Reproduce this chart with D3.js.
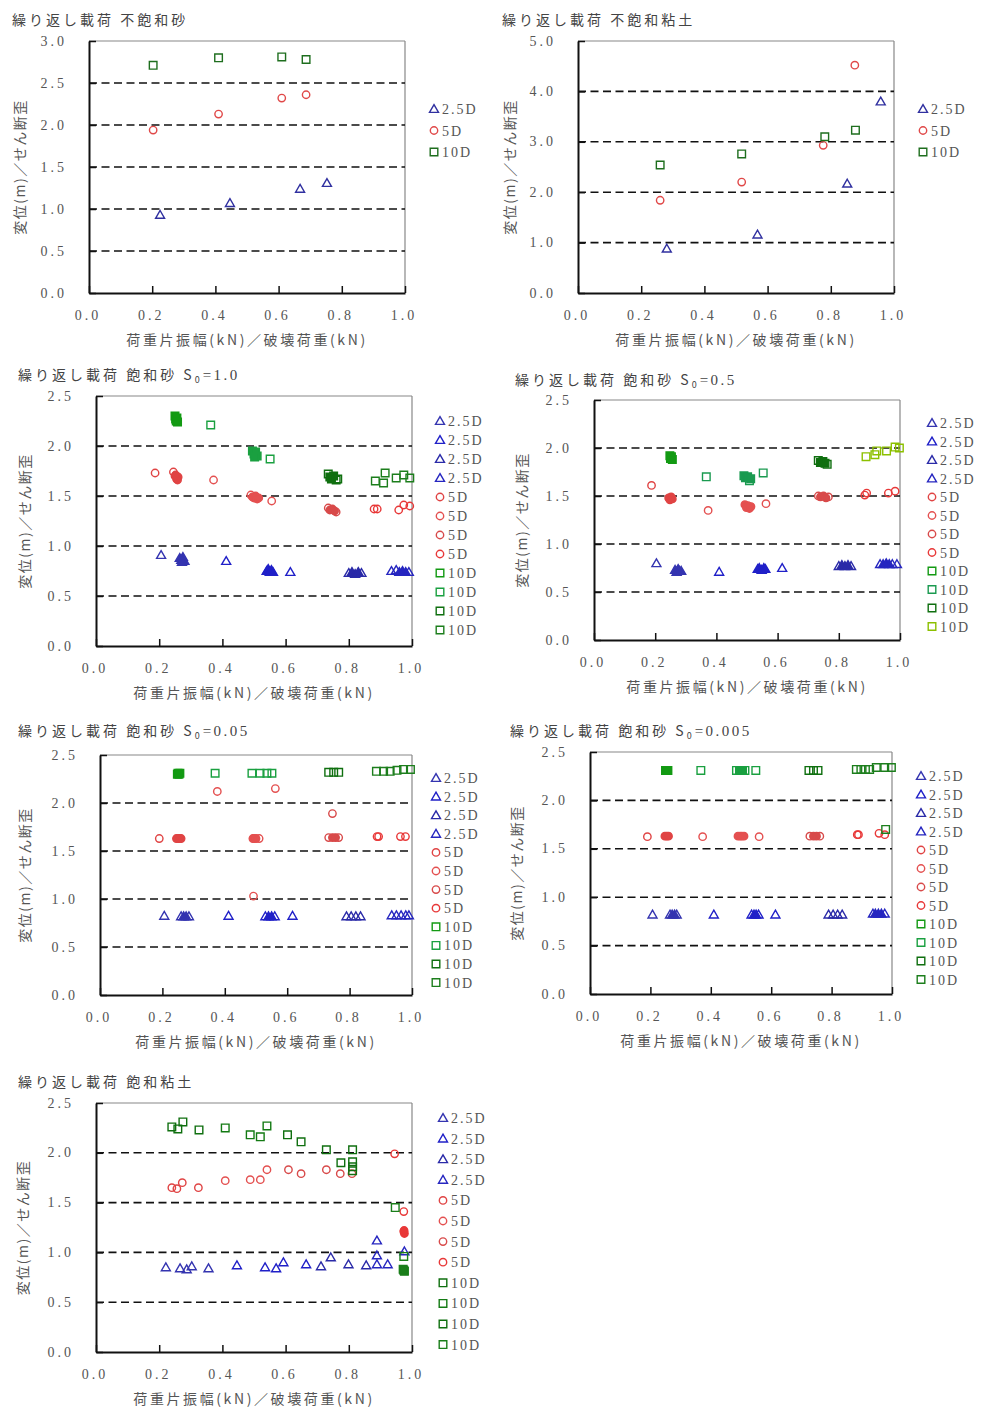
<!DOCTYPE html>
<html><head><meta charset="utf-8">
<script src="https://cdn.jsdelivr.net/npm/d3@7"></script>
<style>
body{margin:0;background:#fff;}
svg{display:block;}
text{font-family:"Liberation Serif","Noto Sans CJK JP",serif;}
.jp{font-family:"Noto Sans CJK JP","Noto Sans",sans-serif;}
</style></head>
<body>
<svg id="c" width="985" height="1412"></svg>
<script>
// ---------- DATA ----------
const xTicks = [0, 0.2, 0.4, 0.6, 0.8, 1.0];
const yTicks25 = [0, 0.5, 1.0, 1.5, 2.0, 2.5];
const yTicks30 = [0, 0.5, 1.0, 1.5, 2.0, 2.5, 3.0];
const yTicks50 = [0, 1.0, 2.0, 3.0, 4.0, 5.0];
const xTitle = "荷重片振幅(kN)／破壊荷重(kN)";
const yTitle = "変位(m)／せん断歪";
const seriesNames = ["2.5D", "5D", "10D"];
const titles = [
  ["繰り返し載荷 不飽和砂", ""],
  ["繰り返し載荷 不飽和粘土", ""],
  ["繰り返し載荷 飽和砂 S", "=1.0"],
  ["繰り返し載荷 飽和砂 S", "=0.5"],
  ["繰り返し載荷 飽和砂 S", "=0.05"],
  ["繰り返し載荷 飽和砂 S", "=0.005"],
  ["繰り返し載荷 飽和粘土", ""]
];

// Panel 1: 不飽和砂
const p1Tri = [[0.225,0.93],[0.446,1.07],[0.668,1.24],[0.753,1.31]];
const p1Cir = [[0.203,1.94],[0.41,2.13],[0.61,2.32],[0.687,2.36]];
const p1Sqr = [[0.203,2.71],[0.41,2.80],[0.61,2.81],[0.687,2.78]];

// Panel 2: 不飽和粘土
const p2Tri = [[0.281,0.88],[0.568,1.16],[0.852,2.17],[0.958,3.80]];
const p2Cir = [[0.26,1.84],[0.518,2.20],[0.776,2.93],[0.876,4.52]];
const p2Sqr = [[0.26,2.54],[0.518,2.76],[0.781,3.10],[0.878,3.23]];

// Panel 3: 飽和砂 S0=1.0
const p3Tri1 = [[0.206,0.91],[0.265,0.88],[0.27,0.86],[0.275,0.89],[0.28,0.85],[0.272,0.84]];
const p3Tri2 = [[0.412,0.85],[0.54,0.75],[0.545,0.77],[0.55,0.74],[0.555,0.76],[0.56,0.74],[0.615,0.74]];
const p3Tri3 = [[0.80,0.73],[0.81,0.74],[0.82,0.72],[0.83,0.74],[0.84,0.73]];
const p3Tri4 = [[0.935,0.75],[0.95,0.76],[0.96,0.74],[0.97,0.75],[0.98,0.74],[0.99,0.74]];
const p3Cir1 = [[0.187,1.73],[0.245,1.74],[0.25,1.70],[0.255,1.67],[0.26,1.69],[0.258,1.66],[0.252,1.71]];
const p3Cir2 = [[0.372,1.66],[0.49,1.51],[0.495,1.49],[0.50,1.48],[0.505,1.50],[0.51,1.47],[0.515,1.48],[0.556,1.45]];
const p3Cir3 = [[0.735,1.38],[0.74,1.36],[0.748,1.37],[0.755,1.35],[0.76,1.34]];
const p3Cir4 = [[0.88,1.37],[0.89,1.37],[0.958,1.36],[0.974,1.41],[0.993,1.40]];
const p3Sqr1 = [[0.25,2.30],[0.252,2.27],[0.254,2.25],[0.256,2.28],[0.258,2.24]];
const p3Sqr2 = [[0.363,2.21],[0.495,1.95],[0.50,1.92],[0.505,1.94],[0.51,1.90],[0.502,1.89],[0.551,1.87]];
const p3Sqr3 = [[0.735,1.72],[0.74,1.69],[0.745,1.67],[0.752,1.70],[0.76,1.66],[0.765,1.67]];
const p3Sqr4 = [[0.884,1.65],[0.91,1.63],[0.915,1.73],[0.95,1.68],[0.974,1.71],[0.993,1.68]];

// Panel 4: 飽和砂 S0=0.5
const p4Tri1 = [[0.204,0.80],[0.265,0.73],[0.27,0.71],[0.275,0.74],[0.28,0.72],[0.285,0.72]];
const p4Tri2 = [[0.409,0.71],[0.535,0.74],[0.54,0.75],[0.548,0.73],[0.555,0.75],[0.56,0.74],[0.615,0.75]];
const p4Tri3 = [[0.80,0.77],[0.81,0.78],[0.82,0.77],[0.83,0.78],[0.84,0.77]];
const p4Tri4 = [[0.935,0.79],[0.945,0.79],[0.955,0.80],[0.965,0.79],[0.975,0.79],[0.99,0.79]];
const p4Cir1 = [[0.188,1.61],[0.244,1.48],[0.248,1.46],[0.252,1.49],[0.256,1.47]];
const p4Cir2 = [[0.373,1.35],[0.493,1.41],[0.498,1.38],[0.503,1.40],[0.508,1.37],[0.513,1.39],[0.562,1.42]];
const p4Cir3 = [[0.733,1.50],[0.74,1.49],[0.75,1.50],[0.758,1.48],[0.766,1.49]];
const p4Cir4 = [[0.885,1.51],[0.891,1.53],[0.962,1.53],[0.984,1.55]];
const p4Sqr1 = [[0.248,1.92],[0.25,1.89],[0.253,1.91],[0.256,1.88]];
const p4Sqr2 = [[0.367,1.70],[0.49,1.71],[0.495,1.69],[0.502,1.70],[0.508,1.66],[0.512,1.68],[0.553,1.74]];
const p4Sqr3 = [[0.733,1.87],[0.74,1.85],[0.748,1.86],[0.755,1.84],[0.762,1.83]];
const p4Sqr4 = [[0.889,1.91],[0.918,1.93],[0.924,1.97],[0.956,1.97],[0.984,2.01],[0.998,2.00]];

// Panel 5: 飽和砂 S0=0.05
const p5Tri1 = [[0.206,0.825],[0.26,0.82],[0.268,0.82],[0.276,0.82],[0.285,0.82]];
const p5Tri2 = [[0.412,0.825],[0.53,0.82],[0.54,0.82],[0.55,0.82],[0.56,0.82],[0.617,0.825]];
const p5Tri3 = [[0.79,0.82],[0.805,0.82],[0.82,0.82],[0.835,0.82]];
const p5Tri4 = [[0.935,0.83],[0.95,0.83],[0.965,0.83],[0.98,0.83],[0.99,0.83]];
const p5Cir1 = [[0.19,1.63],[0.245,1.63],[0.25,1.63],[0.255,1.63],[0.26,1.63]];
const p5Cir2 = [[0.376,2.12],[0.49,1.63],[0.495,1.63],[0.50,1.63],[0.51,1.63],[0.492,1.03],[0.562,2.15]];
const p5Cir3 = [[0.733,1.64],[0.745,1.64],[0.755,1.64],[0.765,1.64],[0.745,1.89]];
const p5Cir4 = [[0.888,1.65],[0.893,1.65],[0.963,1.65],[0.979,1.65]];
const p5Sqr1 = [[0.248,2.30],[0.25,2.31],[0.253,2.30],[0.256,2.31]];
const p5Sqr2 = [[0.369,2.31],[0.487,2.31],[0.513,2.31],[0.535,2.31],[0.551,2.31]];
const p5Sqr3 = [[0.733,2.32],[0.749,2.32],[0.765,2.32]];
const p5Sqr4 = [[0.886,2.33],[0.909,2.33],[0.93,2.33],[0.952,2.34],[0.973,2.35],[0.995,2.35]];

// Panel 6: 飽和砂 S0=0.005
const p6Tri1 = [[0.207,0.82],[0.265,0.82],[0.272,0.82],[0.28,0.82],[0.287,0.82]];
const p6Tri2 = [[0.41,0.82],[0.535,0.82],[0.543,0.82],[0.55,0.82],[0.558,0.82],[0.614,0.82]];
const p6Tri3 = [[0.79,0.82],[0.805,0.82],[0.82,0.82],[0.835,0.82]];
const p6Tri4 = [[0.937,0.83],[0.945,0.83],[0.955,0.83],[0.965,0.83],[0.976,0.83]];
const p6Cir1 = [[0.19,1.625],[0.248,1.63],[0.254,1.63],[0.26,1.63]];
const p6Cir2 = [[0.373,1.625],[0.49,1.63],[0.497,1.63],[0.503,1.63],[0.51,1.63],[0.56,1.625]];
const p6Cir3 = [[0.728,1.63],[0.74,1.63],[0.75,1.63],[0.761,1.63]];
const p6Cir4 = [[0.885,1.646],[0.889,1.646],[0.957,1.66],[0.976,1.646]];
const p6Sqr1 = [[0.25,2.31],[0.254,2.31],[0.258,2.31]];
const p6Sqr2 = [[0.367,2.31],[0.485,2.31],[0.495,2.31],[0.505,2.31],[0.513,2.31],[0.549,2.31]];
const p6Sqr3 = [[0.725,2.31],[0.74,2.31],[0.755,2.31]];
const p6Sqr4 = [[0.882,2.32],[0.897,2.32],[0.912,2.32],[0.926,2.32],[0.948,2.34],[0.976,2.34],[0.998,2.34],[0.979,1.70]];

// Panel 7: 飽和粘土
const p7Tri1 = [[0.221,0.85],[0.266,0.84],[0.287,0.83],[0.303,0.86],[0.356,0.84]];
const p7Tri2 = [[0.446,0.87],[0.535,0.85],[0.570,0.84],[0.593,0.90],[0.665,0.88]];
const p7Tri3 = [[0.712,0.86],[0.743,0.95],[0.799,0.88],[0.855,0.87]];
const p7Tri4 = [[0.889,1.12],[0.889,0.97],[0.889,0.88],[0.923,0.88],[0.976,1.01]];
const p7Cir1 = [[0.24,1.65],[0.256,1.64],[0.273,1.70],[0.324,1.65]];
const p7Cir2 = [[0.409,1.72],[0.488,1.73],[0.52,1.73],[0.541,1.83]];
const p7Cir3 = [[0.609,1.83],[0.649,1.79],[0.729,1.83],[0.773,1.79],[0.81,1.79]];
const p7Cir4 = [[0.945,1.99],[0.974,1.41],[0.974,1.21],[0.976,1.19],[0.975,1.22]];
const p7Sqr1 = [[0.24,2.26],[0.259,2.24],[0.275,2.31],[0.326,2.23]];
const p7Sqr2 = [[0.409,2.25],[0.488,2.18],[0.52,2.16],[0.541,2.27]];
const p7Sqr3 = [[0.606,2.18],[0.649,2.11],[0.729,2.03],[0.775,1.90],[0.812,2.03],[0.812,1.91],[0.812,1.86],[0.812,1.82]];
const p7Sqr4 = [[0.947,1.45],[0.974,0.96],[0.974,0.82],[0.976,0.81],[0.972,0.83]];

// ---------- RENDER ----------
const svg = d3.select("#c");
const TRI = ["#3434b0","#2020c8","#2a2aa8","#2626c0"];
const CIR = ["#e04444","#e45050","#d84a4a","#e83838"];
const SQR = ["#139a13","#1aa040","#0f6f0f","#1c7e1c"];

function symPath(kind){
  if(kind==="tri") return "M0,-4.4L4.5,3.4L-4.5,3.4Z";
  return "M-3.8,-3.8H3.8V3.8H-3.8Z";
}
function marker(g, kind, color, x, y, filled){
  const fill = filled ? color : "none";
  if(kind==="cir"){
    g.append("circle").attr("cx",x).attr("cy",y).attr("r",3.7)
      .attr("fill",fill).attr("stroke",color).attr("stroke-width",1.4);
  } else {
    g.append("path").attr("d",symPath(kind)).attr("transform",`translate(${x},${y})`)
      .attr("fill",fill).attr("stroke",color).attr("stroke-width",1.4);
  }
}

function drawPanel(cfg){
  const g = svg.append("g");
  const x = d3.scaleLinear().domain([0,1]).range([cfg.left,cfg.right]);
  const y = d3.scaleLinear().domain([0,cfg.ymax]).range([cfg.bottom,cfg.top]);
  // frame top/right
  g.append("line").attr("x1",cfg.left).attr("x2",cfg.right).attr("y1",cfg.top).attr("y2",cfg.top)
    .attr("stroke","#888").attr("stroke-width",1.2);
  g.append("line").attr("x1",cfg.right).attr("x2",cfg.right).attr("y1",cfg.top).attr("y2",cfg.bottom)
    .attr("stroke","#888").attr("stroke-width",1.2);
  // dashed gridlines
  cfg.yTicks.filter(v=>v>0 && v<cfg.ymax).forEach(v=>{
    g.append("line").attr("x1",cfg.left).attr("x2",cfg.right).attr("y1",y(v)).attr("y2",y(v))
      .attr("stroke","#111").attr("stroke-width",1.6).attr("stroke-dasharray","8,4.5");
  });
  // axes
  const xa = d3.axisBottom(x).tickValues(cfg.xTicks).tickSizeInner(-7).tickSizeOuter(0).tickFormat("");
  g.append("g").attr("transform",`translate(0,${cfg.bottom})`).call(xa)
    .call(s=>{s.select(".domain").attr("stroke","#111").attr("stroke-width",2);
              s.selectAll(".tick line").attr("stroke","#111").attr("stroke-width",1.5);});
  const ya = d3.axisLeft(y).tickValues(cfg.yTicks).tickSizeInner(-7).tickSizeOuter(0).tickFormat("");
  g.append("g").attr("transform",`translate(${cfg.left},0)`).call(ya)
    .call(s=>{s.select(".domain").attr("stroke","#111").attr("stroke-width",2);
              s.selectAll(".tick line").attr("stroke","#111").attr("stroke-width",1.5);});
  // tick labels
  cfg.xTicks.forEach(v=>{
    g.append("text").attr("x",x(v)-1).attr("y",cfg.bottom+27).attr("text-anchor","middle")
      .attr("font-size",14).attr("fill","#555").attr("letter-spacing",3).text(v.toFixed(1));
  });
  cfg.yTicks.forEach(v=>{
    g.append("text").attr("x",cfg.left-22).attr("y",y(v)+4.5).attr("text-anchor","end")
      .attr("font-size",14).attr("fill","#555").attr("letter-spacing",3).text(v.toFixed(1));
  });
  // title
  const t = g.append("text").attr("class","jp").attr("x",cfg.titleX).attr("y",cfg.titleY)
    .attr("font-size",14).attr("fill","#444").attr("letter-spacing",3);
  t.append("tspan").text(cfg.title[0]);
  if(cfg.title[1]){
    t.append("tspan").attr("font-size",9).attr("dy",3).text("0");
    t.append("tspan").attr("dy",-3).attr("font-family","Liberation Serif").attr("font-size",15).attr("letter-spacing",2.5).text(cfg.title[1]);
  }
  // axis titles
  g.append("text").attr("class","jp").attr("x",(cfg.left+cfg.right)/2).attr("y",cfg.bottom+52)
    .attr("text-anchor","middle").attr("font-size",14).attr("fill","#555").attr("letter-spacing",2.6)
    .text(xTitle);
  g.append("text").attr("class","jp")
    .attr("transform",`translate(${cfg.ytitleX+5},${(cfg.top+cfg.bottom)/2}) rotate(-90)`)
    .attr("text-anchor","middle").attr("font-size",14).attr("fill","#555").attr("letter-spacing",1.5)
    .text(yTitle);
  // series points (points inside dense clusters render as solid blobs)
  const mg = g.append("g");
  const pts = [];
  cfg.series.forEach(s=>s.data.forEach(d=>pts.push({s, px:x(d[0]), py:y(d[1])})));
  pts.forEach(p=>{
    const n = pts.filter(q=>q!==p && q.s.kind===p.s.kind && Math.hypot(q.px-p.px,q.py-p.py)<4).length;
    marker(mg, p.s.kind, p.s.color, p.px, p.py, n>=2);
  });
  // legend
  cfg.series.forEach((s,i)=>{
    const ly = cfg.legendY0 + i*cfg.legendStep;
    marker(g, s.kind, s.color, cfg.legendX, ly, false);
    g.append("text").attr("x",cfg.legendX+8).attr("y",ly+5).attr("font-size",14)
      .attr("fill","#555").attr("letter-spacing",2).text(s.name);
  });
}

function three(tri,cir,sqr){
  return [
    {name:seriesNames[0],kind:"tri",color:"#3030a0",data:tri},
    {name:seriesNames[1],kind:"cir",color:"#e04848",data:cir},
    {name:seriesNames[2],kind:"sqr",color:"#1e6e1e",data:sqr}
  ];
}
function twelve(tris,cirs,sqrs,sqrColors){
  const out=[];
  tris.forEach((d,i)=>out.push({name:seriesNames[0],kind:"tri",color:TRI[i],data:d}));
  cirs.forEach((d,i)=>out.push({name:seriesNames[1],kind:"cir",color:CIR[i],data:d}));
  sqrs.forEach((d,i)=>out.push({name:seriesNames[2],kind:"sqr",color:(sqrColors||SQR)[i],data:d}));
  return out;
}

const panels = [
  {left:89,right:405,top:41,bottom:293,ymax:3.0,yTicks:yTicks30,legendX:434,legendY0:109,legendStep:21.5,
   titleX:12,titleY:25,ytitleX:20,title:titles[0],series:three(p1Tri,p1Cir,p1Sqr)},
  {left:578,right:894,top:41,bottom:293,ymax:5.0,yTicks:yTicks50,legendX:923,legendY0:109,legendStep:21.5,
   titleX:502,titleY:25,ytitleX:510,title:titles[1],series:three(p2Tri,p2Cir,p2Sqr)},
  {left:96,right:412,top:396,bottom:646,ymax:2.5,yTicks:yTicks25,legendX:440,legendY0:421,legendStep:19,
   titleX:18,titleY:380,ytitleX:25,title:titles[2],
   series:twelve([p3Tri1,p3Tri2,p3Tri3,p3Tri4],[p3Cir1,p3Cir2,p3Cir3,p3Cir4],[p3Sqr1,p3Sqr2,p3Sqr3,p3Sqr4])},
  {left:594,right:900,top:400,bottom:640,ymax:2.5,yTicks:yTicks25,legendX:932,legendY0:423,legendStep:18.5,
   titleX:515,titleY:385,ytitleX:522,title:titles[3],
   series:twelve([p4Tri1,p4Tri2,p4Tri3,p4Tri4],[p4Cir1,p4Cir2,p4Cir3,p4Cir4],[p4Sqr1,p4Sqr2,p4Sqr3,p4Sqr4],
     ["#139a13","#1a9a50","#0f6f0f","#8cc000"])},
  {left:100,right:412,top:755,bottom:995,ymax:2.5,yTicks:yTicks25,legendX:436,legendY0:778,legendStep:18.6,
   titleX:18,titleY:736,ytitleX:25,title:titles[4],
   series:twelve([p5Tri1,p5Tri2,p5Tri3,p5Tri4],[p5Cir1,p5Cir2,p5Cir3,p5Cir4],[p5Sqr1,p5Sqr2,p5Sqr3,p5Sqr4])},
  {left:590,right:892,top:752,bottom:994,ymax:2.5,yTicks:yTicks25,legendX:921,legendY0:776,legendStep:18.5,
   titleX:510,titleY:736,ytitleX:517,title:titles[5],
   series:twelve([p6Tri1,p6Tri2,p6Tri3,p6Tri4],[p6Cir1,p6Cir2,p6Cir3,p6Cir4],[p6Sqr1,p6Sqr2,p6Sqr3,p6Sqr4])},
  {left:96,right:412,top:1103,bottom:1352,ymax:2.5,yTicks:yTicks25,legendX:443,legendY0:1118,legendStep:20.6,
   titleX:18,titleY:1087,ytitleX:23,title:titles[6],
   series:twelve([p7Tri1,p7Tri2,p7Tri3,p7Tri4],[p7Cir1,p7Cir2,p7Cir3,p7Cir4],[p7Sqr1,p7Sqr2,p7Sqr3,p7Sqr4],
     ["#0f6f0f","#137a13","#0f6f0f","#1a7e1a"])}
];
panels.forEach(p=>{p.xTicks=xTicks; drawPanel(p);});
</script>
</body></html>
